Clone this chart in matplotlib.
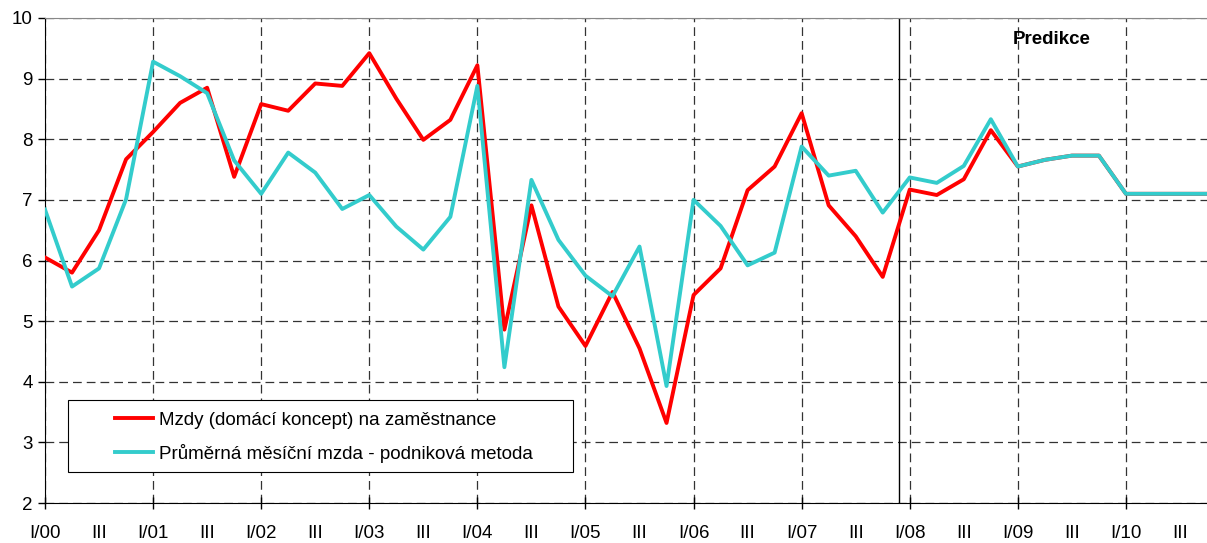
import matplotlib
matplotlib.use("Agg")
import matplotlib.pyplot as plt
from matplotlib.patches import Rectangle
from matplotlib.ticker import FixedLocator, FixedFormatter

plt.rcParams['font.family'] = ['Liberation Sans', 'DejaVu Sans']

years = ["00", "01", "02", "03", "04", "05", "06", "07", "08", "09", "10"]
mzdy_label = "Mzdy (domácí koncept) na zaměstnance"
prumer_label = "Průměrná měsíční mzda - podniková metoda"

mzdy = [6.05, 5.80, 6.50, 7.67, 8.12, 8.60, 8.85, 7.38,
        8.58, 8.47, 8.92, 8.88, 9.42, 8.67, 7.99, 8.32,
        9.22, 4.86, 6.91, 5.24, 4.59, 5.48, 4.55, 3.32,
        5.43, 5.87, 7.16, 7.55, 8.43, 6.91, 6.40, 5.73,
        7.17, 7.08, 7.34, 8.15, 7.55, 7.66, 7.73, 7.73,
        7.10, 7.10, 7.10, 7.10]
prumer = [6.84, 5.57, 5.87, 7.01, 9.28, 9.04, 8.76, 7.65,
          7.10, 7.78, 7.45, 6.85, 7.08, 6.56, 6.18, 6.72,
          8.88, 4.24, 7.33, 6.34, 5.75, 5.41, 6.23, 3.93,
          7.00, 6.57, 5.92, 6.13, 7.88, 7.40, 7.48, 6.79,
          7.37, 7.28, 7.56, 8.33, 7.55, 7.66, 7.73, 7.73,
          7.10, 7.10, 7.10, 7.10]
prediction_start = 31.6
prediction_text = "Predikce"

FS = 13.5

fig = plt.figure(figsize=(12.07, 5.43), dpi=100)
ax = fig.add_axes([45/1207, 1-503/543, 1162/1207, 485/543])

q = list(range(len(mzdy)))
ax.plot(q, mzdy, color="#FF0000", lw=2.8, label=mzdy_label, zorder=3)
ax.plot(q, prumer, color="#33CCCC", lw=2.8, label=prumer_label, zorder=3)

ax.axvline(prediction_start, color="black", lw=1.0, zorder=2)
ax.text(0.833, 0.955, prediction_text, transform=ax.transAxes, fontsize=FS,
        fontweight="bold", ha="left", va="center")

ax.set_xlim(0, 43)
ax.set_ylim(2, 10)
ax.set_yticks(range(2, 11))

major = [4*i for i in range(len(years))]
minor = [4*i + 2 for i in range(len(years))]
ax.xaxis.set_major_locator(FixedLocator(major))
ax.xaxis.set_major_formatter(FixedFormatter(["I/" + y for y in years]))
ax.xaxis.set_minor_locator(FixedLocator(minor))
ax.xaxis.set_minor_formatter(FixedFormatter(["III"] * len(minor)))

ax.tick_params(axis="x", which="major", direction="inout", length=8, width=1,
               pad=11.5, labelsize=FS)
ax.tick_params(axis="x", which="minor", length=0, pad=15.5, labelsize=FS)
ax.tick_params(axis="y", direction="out", length=5, width=1, pad=4, labelsize=FS)

ax.grid(True, which="major", axis="both", color="#333333", lw=0.9,
        linestyle=(0, (7, 4)))
ax.set_axisbelow(True)

ax.spines["right"].set_visible(False)
ax.spines["top"].set_color("#888888")
ax.spines["left"].set_color("black")
ax.spines["bottom"].set_color("black")

# legend frame
ax.add_patch(Rectangle((0.0198, 0.0639), 0.4346, 0.1485, transform=ax.transAxes,
                       facecolor="white", edgecolor="black", lw=0.8, zorder=4))
leg = ax.legend(loc="upper left", bbox_to_anchor=(0.0602, 0.188),
                fontsize=FS, frameon=False, handlelength=2.05, handletextpad=0.28,
                borderpad=0, labelspacing=0.78, borderaxespad=0)
leg.set_zorder(5)

fig.savefig("out.png", dpi=100)
